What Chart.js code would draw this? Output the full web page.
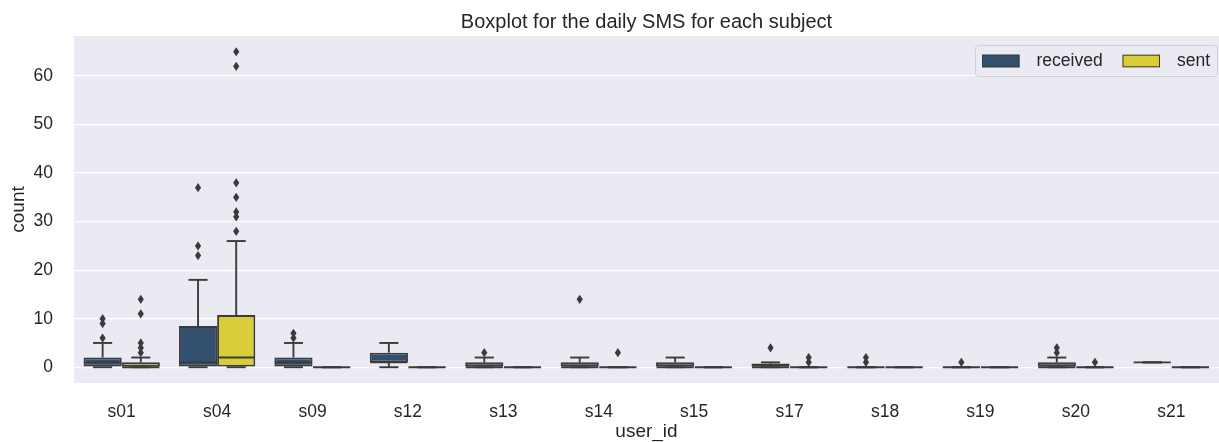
<!DOCTYPE html>
<html>
<head>
<meta charset="utf-8">
<title>Boxplot for the daily SMS for each subject</title>
<script src="https://cdn.jsdelivr.net/npm/chart.js@4.4.1/dist/chart.umd.min.js"></script>
<style>
  html, body { margin: 0; padding: 0; background: #ffffff; }
  #wrap { width: 1219px; height: 442px; }
</style>
</head>
<body>
<div id="wrap"><canvas id="c" width="1219" height="442"></canvas></div>
<script>
// Subjects on the x axis
const subjects = ['s01', 's04', 's09', 's12', 's13', 's14', 's15', 's17', 's18', 's19', 's20', 's21'];

// Daily SMS received: five-number summary per subject plus outliers
const receivedLow    = [0, 0, 0, 0, 0, 0, 0, 0, 0, 0, 0, 1];
const receivedQ1     = [0, 0, 0, 1, 0, 0, 0, 0, 0, 0, 0, 1];
const receivedMedian = [1, 1, 1, 1, 0, 0, 0, 0, 0, 0, 0, 1];
const receivedQ3     = [2, 8.5, 2, 3, 1, 1, 1, 0.75, 0, 0, 1, 1];
const receivedHigh   = [5, 18, 5, 5, 2, 2, 2, 1, 0, 0, 2, 1];
const receivedOutliers = [[6, 9, 10], [23, 25, 37], [6, 7], [], [3], [14], [], [4], [1, 2], [1], [3, 4], []];

// Daily SMS sent
const sentLow    = [0, 0, 0, 0, 0, 0, 0, 0, 0, 0, 0, 0];
const sentQ1     = [0, 0, 0, 0, 0, 0, 0, 0, 0, 0, 0, 0];
const sentMedian = [0, 2, 0, 0, 0, 0, 0, 0, 0, 0, 0, 0];
const sentQ3     = [1, 10.75, 0, 0, 0, 0, 0, 0, 0, 0, 0, 0];
const sentHigh   = [2, 26, 0, 0, 0, 0, 0, 0, 0, 0, 0, 0];
const sentOutliers = [[3, 4, 5, 11, 14], [28, 31, 32, 35, 38, 62, 65], [], [], [], [3], [], [1, 2], [], [], [1], []];

// Y axis tick values
const yTickValues = [0, 10, 20, 30, 40, 50, 60];

const FONT = "'Liberation Sans', Arial, sans-serif";
const TEXT = '#262626';
const LINE = '#3b3b3b';
const BG = '#eaeaf2';
const COLORS = { received: '#324f6e', sent: '#d9cd3a' };

const stats = [
  { low: receivedLow, q1: receivedQ1, med: receivedMedian, q3: receivedQ3, high: receivedHigh, out: receivedOutliers },
  { low: sentLow, q1: sentQ1, med: sentMedian, q3: sentQ3, high: sentHigh, out: sentOutliers }
];

// Plot-area background
const backgroundPlugin = {
  id: 'plotBackground',
  beforeDraw(chart) {
    const { ctx, chartArea: a } = chart;
    ctx.save();
    ctx.fillStyle = BG;
    ctx.fillRect(a.left, a.top, a.right - a.left, a.bottom - a.top);
    ctx.restore();
  }
};

// Whiskers, caps, medians and outlier diamonds, positioned from each bar element
const boxPlugin = {
  id: 'boxParts',
  afterDatasetsDraw(chart) {
    const { ctx } = chart;
    const y = chart.scales.y;
    ctx.save();
    ctx.strokeStyle = LINE;
    ctx.fillStyle = LINE;
    ctx.lineWidth = 1.9;
    ctx.lineCap = 'butt';
    chart.data.datasets.forEach((ds, di) => {
      const meta = chart.getDatasetMeta(di);
      const s = stats[di];
      meta.data.forEach((el, i) => {
        const x = el.x;
        const w = el.width;
        const line = (x0, y0, x1, y1) => {
          ctx.beginPath(); ctx.moveTo(x0, y0); ctx.lineTo(x1, y1); ctx.stroke();
        };
        const yLo = y.getPixelForValue(s.low[i]);
        const yQ1 = y.getPixelForValue(s.q1[i]);
        const yQ3 = y.getPixelForValue(s.q3[i]);
        const yHi = y.getPixelForValue(s.high[i]);
        const yMed = y.getPixelForValue(s.med[i]);
        // whiskers
        if (yHi < yQ3) line(x, yQ3, x, yHi);
        if (yLo > yQ1) line(x, yQ1, x, yLo);
        // caps
        line(x - w / 4, yHi, x + w / 4, yHi);
        line(x - w / 4, yLo, x + w / 4, yLo);
        // median
        line(x - w / 2 + 0.5, yMed, x + w / 2 - 0.5, yMed);
        // outliers
        s.out[i].forEach(v => {
          const py = y.getPixelForValue(v);
          ctx.beginPath();
          ctx.moveTo(x, py - 4.6);
          ctx.lineTo(x + 3.1, py);
          ctx.lineTo(x, py + 4.6);
          ctx.lineTo(x - 3.1, py);
          ctx.closePath();
          ctx.fill();
        });
      });
    });
    ctx.restore();
  }
};

// Framed legend inside the top-right of the plot
const legendPlugin = {
  id: 'frameLegend',
  afterDraw(chart) {
    const { ctx, chartArea: a } = chart;
    const right = a.right - 1;
    const top = a.top + 9;
    const left = right - 243;
    const h = 31;
    ctx.save();
    ctx.fillStyle = 'rgba(234,234,242,0.8)';
    ctx.strokeStyle = '#cfcfd6';
    ctx.lineWidth = 1;
    ctx.beginPath();
    ctx.roundRect(left + 0.5, top + 0.5, right - left - 1, h, 3);
    ctx.fill();
    ctx.stroke();
    ctx.font = '17.5px ' + FONT;
    ctx.textBaseline = 'middle';
    ctx.fillStyle = TEXT;
    const cy = top + h / 2 + 0.5;
    chart.data.datasets.forEach((ds, di) => {
      const bx = left + 7 + di * 140.5;
      ctx.fillStyle = ds.backgroundColor;
      ctx.fillRect(bx, cy - 6.3, 37.5, 12.6);
      ctx.strokeStyle = LINE;
      ctx.lineWidth = 1;
      ctx.strokeRect(bx + 0.5, cy - 6.3 + 0.5, 36.5, 11.6);
      ctx.fillStyle = TEXT;
      ctx.textAlign = 'left';
      ctx.fillText(ds.label, bx + 54.5, cy);
    });
    ctx.restore();
  }
};

new Chart(document.getElementById('c'), {
  type: 'bar',
  data: {
    labels: subjects,
    datasets: [
      {
        label: 'received',
        data: subjects.map((_, i) => [receivedQ1[i], receivedQ3[i]]),
        backgroundColor: COLORS.received,
        borderColor: LINE,
        borderWidth: 1.9,
        borderSkipped: false,
        categoryPercentage: 0.8,
        barPercentage: 1.0
      },
      {
        label: 'sent',
        data: subjects.map((_, i) => [sentQ1[i], sentQ3[i]]),
        backgroundColor: COLORS.sent,
        borderColor: LINE,
        borderWidth: 1.9,
        borderSkipped: false,
        categoryPercentage: 0.8,
        barPercentage: 1.0
      }
    ]
  },
  options: {
    responsive: false,
    animation: false,
    devicePixelRatio: 1,
    layout: { padding: 0 },
    plugins: {
      legend: { display: false },
      tooltip: { enabled: false },
      title: {
        display: true,
        text: 'Boxplot for the daily SMS for each subject',
        color: TEXT,
        font: { family: FONT, size: 20, weight: 'normal' },
        padding: { top: 10.5, bottom: 1.5 },
        fullSize: false
      }
    },
    scales: {
      x: {
        grid: { display: false, drawTicks: false },
        border: { display: false },
        ticks: { color: TEXT, font: { family: FONT, size: 17.5 }, padding: 18.4 },
        title: {
          display: true,
          text: 'user_id',
          color: TEXT,
          font: { family: FONT, size: 19, lineHeight: 1.0 },
          padding: { top: 3, bottom: 0.5 }
        },
        afterFit(scale) { scale.height = 59; }
      },
      y: {
        min: -3.25,
        max: 68.25,
        grid: { color: '#ffffff', lineWidth: 1.3, drawTicks: false },
        border: { display: false },
        ticks: { color: TEXT, font: { family: FONT, size: 17.5 }, padding: 21 },
        afterBuildTicks(scale) { scale.ticks = yTickValues.map(v => ({ value: v })); },
        title: {
          display: true,
          text: 'count',
          color: TEXT,
          font: { family: FONT, size: 19, lineHeight: 1.0 },
          padding: { top: 9.5, bottom: 4 }
        },
        afterFit(scale) { scale.width = 74; }
      }
    }
  },
  plugins: [backgroundPlugin, boxPlugin, legendPlugin]
});
</script>
</body>
</html>
